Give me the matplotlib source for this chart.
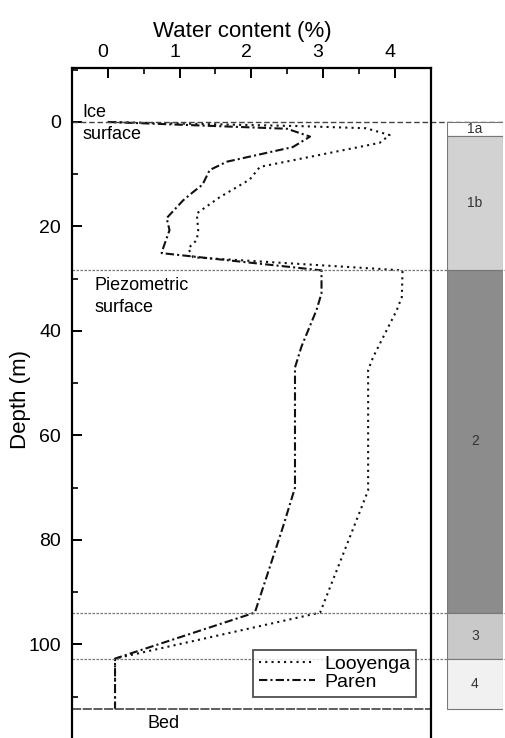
import matplotlib.pyplot as plt
import matplotlib.transforms as mtransforms
from matplotlib.ticker import MultipleLocator

plt.rcParams['font.family'] = ['Liberation Sans', 'DejaVu Sans']

# Looyenga profile (water content %, depth m)
looyenga_depth = [0, 0.8, 1.2, 2.5, 4.0, 8.6, 11.0, 14.4, 17.5, 20.7, 22.6, 24.2, 25.9, 28.4,
                  33.5, 36.0, 45.0, 47.5, 70.5, 73.7, 93.9, 102.7, 112.3]
looyenga_wc = [0, 2.7, 3.6, 3.93, 3.79, 2.12, 1.98, 1.56, 1.24, 1.26, 1.24, 1.12, 1.19, 4.11,
               4.10, 4.03, 3.70, 3.63, 3.63, 3.54, 2.96, 0.10, 0.10]

# Paren profile
paren_depth = [0, 1.3, 2.8, 4.8, 7.6, 9.2, 12.0, 13.4, 15.0, 18.4, 20.7, 24.2, 25.1, 28.4,
               32.8, 36.0, 43.0, 47.0, 70.0, 77.6, 93.9, 102.7, 112.3]
paren_wc = [0, 2.5, 2.82, 2.58, 1.66, 1.42, 1.32, 1.19, 1.05, 0.82, 0.86, 0.77, 0.75, 2.98,
            2.98, 2.91, 2.70, 2.61, 2.61, 2.44, 2.05, 0.10, 0.10]

# boundaries
ice_surface = 0
piezometric = 28.4
boundary_3 = 93.9
boundary_4 = 102.7
bed = 112.3

# stratigraphic units on the right
unit_names = ['1a', '1b', '2', '3', '4']
unit_top = [0, 2.6, 28.4, 93.9, 102.7]
unit_bottom = [2.6, 28.4, 93.9, 102.7, 112.3]
unit_colors = ['white', '#d2d2d2', '#8c8c8c', '#c9c9c9', '#f1f1f1']

fig = plt.figure(figsize=(5.06, 7.38), dpi=100)
ax = fig.add_axes([72 / 506, 0, 358.5 / 506, 1 - 68 / 738])

ax.plot(looyenga_wc, looyenga_depth, color='#111111', lw=1.5, linestyle=(0, (1, 2)), label='Looyenga')
ax.plot(paren_wc, paren_depth, color='#111111', lw=1.5, linestyle=(0, (4, 1.5, 1, 1.5)), label='Paren')

# horizontal reference lines (extend over to the unit column)
ax.plot([-0.5, 5.6], [ice_surface, ice_surface], color='#444444', lw=1.0, linestyle=(0, (4, 2)), clip_on=False)
for d in [piezometric, boundary_3, boundary_4]:
    ax.plot([-0.5, 5.6], [d, d], color='#777777', lw=0.9, linestyle=(0, (2, 1.2)), clip_on=False)
ax.plot([-0.5, 4.5], [bed, bed], color='#333333', lw=1.1, linestyle=(0, (6, 1)))

ax.text(-0.35, -1.8, 'Ice', fontsize=13, va='center', ha='left')
ax.text(-0.35, 2.4, 'surface', fontsize=13, va='center', ha='left')
ax.text(-0.18, 31.3, 'Piezometric', fontsize=13, va='center', ha='left')
ax.text(-0.18, 35.6, 'surface', fontsize=13, va='center', ha='left')
ax.text(0.55, 115.2, 'Bed', fontsize=13, va='center', ha='left')

ax.set_xlim(-0.5, 4.5)
ax.set_ylim(117.9, -10.33)
ax.xaxis.set_major_locator(MultipleLocator(1))
ax.xaxis.set_minor_locator(MultipleLocator(0.5))
ax.yaxis.set_major_locator(MultipleLocator(20))
ax.yaxis.set_minor_locator(MultipleLocator(10))
ax.tick_params(axis='x', which='both', top=True, bottom=False, labeltop=True, labelbottom=False,
               direction='in', labelsize=14, pad=5)
ax.tick_params(axis='y', which='both', left=True, right=False, direction='in', labelsize=14, pad=8)
ax.tick_params(which='major', length=7, width=1.4)
ax.tick_params(which='minor', length=4, width=1.2)
ax.spines['bottom'].set_visible(False)
for s in ['top', 'left', 'right']:
    ax.spines[s].set_linewidth(1.6)

# top labels sit a little left of their ticks in the original
shift = mtransforms.ScaledTranslation(-5 / 100, 0, fig.dpi_scale_trans)
for lab in ax.get_xticklabels():
    lab.set_transform(lab.get_transform() + shift)

ax.xaxis.set_label_position('top')
ax.set_xlabel('Water content (%)', fontsize=16)
ax.xaxis.set_label_coords(0.474, 1.046)
ax.set_ylabel('Depth (m)', fontsize=16)
ax.yaxis.set_label_coords(-0.115, 0.505)

leg = ax.legend(loc='upper right', bbox_to_anchor=(4.3, 101.0), bbox_transform=ax.transData,
                fontsize=14, frameon=True, fancybox=False, handlelength=2.9, handletextpad=0.45,
                borderpad=0.3, labelspacing=0.0, borderaxespad=0)
leg.get_frame().set_edgecolor('#222222')
leg.get_frame().set_linewidth(1.3)

# unit column
ax2 = fig.add_axes([447 / 506, 0, 56 / 506, 1 - 68 / 738])
heights = [b - t for t, b in zip(unit_top, unit_bottom)]
ax2.bar([0] * len(unit_names), heights, bottom=unit_top, width=1, align='edge',
        color=unit_colors, edgecolor='#777777', linewidth=0.8)
for name, t, b in zip(unit_names, unit_top, unit_bottom):
    ax2.text(0.5, (t + b) / 2, name, fontsize=10, color='#333333', ha='center', va='center')
ax2.set_xlim(0, 1)
ax2.set_ylim(117.9, -10.33)
ax2.axis('off')

plt.savefig('out.png', dpi=100)
